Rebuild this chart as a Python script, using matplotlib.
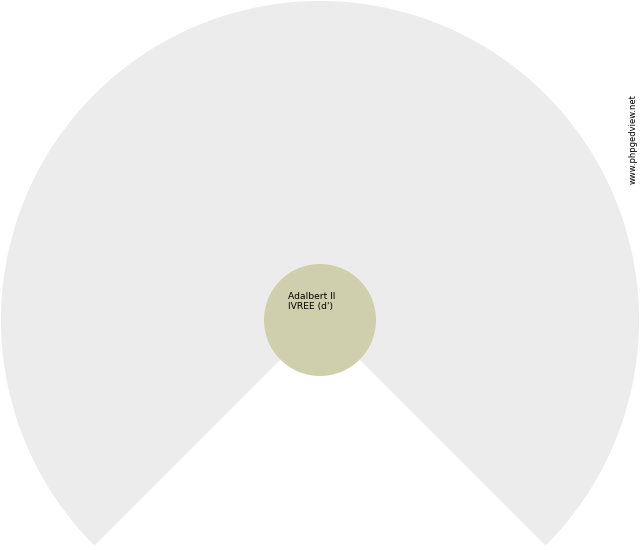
import matplotlib
matplotlib.use("Agg")
import matplotlib.pyplot as plt
from matplotlib.patches import Wedge, Circle

# Fan chart data
root_name = ["Adalbert II", "IVREE (d')"]
fan_start_deg = [-45]
fan_end_deg = [225]
fan_colors = ["#ececec"]
root_color = "#cfcfad"
watermark = "www.phpgedview.net"

fig = plt.figure(figsize=(6.4, 5.5), dpi=100)
ax = fig.add_axes([0, 0, 1, 1])
ax.set_xlim(0, 640)
ax.set_ylim(0, 550)
ax.set_aspect("equal")
ax.axis("off")

cx, cy = 320, 230
R_outer, R_inner = 319, 56

for t1, t2, c in zip(fan_start_deg, fan_end_deg, fan_colors):
    ax.add_patch(Wedge((cx, cy), R_outer, t1, t2, width=R_outer - R_inner + 2,
                       facecolor=c, edgecolor="none"))

ax.add_patch(Circle((cx, cy), R_inner, facecolor=root_color, edgecolor="none"))

ax.text(288, 258, "\n".join(root_name), fontsize=6.6, family="DejaVu Sans",
        ha="left", va="top", color="#000000", linespacing=1.15)

ax.text(633, 411, watermark, fontsize=6.0, family="DejaVu Sans", rotation=90,
        ha="center", va="center", color="#000000")

fig.savefig("out.png", dpi=100)
